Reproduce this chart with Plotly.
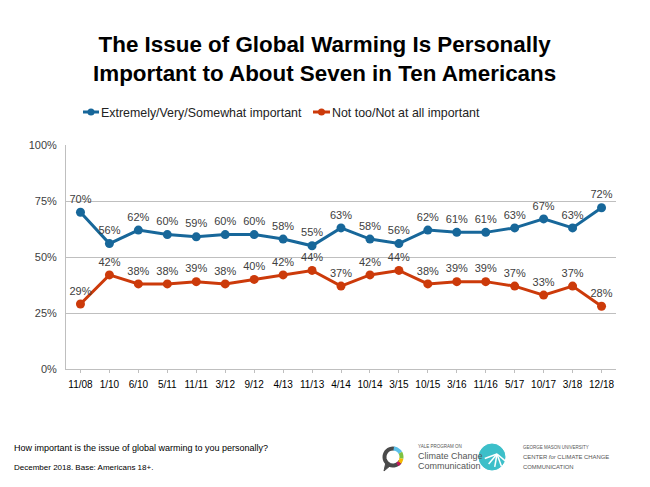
import math
import plotly.graph_objects as go

categories = ["11/08", "1/10", "6/10", "5/11", "11/11", "3/12", "9/12", "4/13", "11/13",
              "4/14", "10/14", "3/15", "10/15", "3/16", "11/16", "5/17", "10/17", "3/18", "12/18"]
important = [70, 56, 62, 60, 59, 60, 60, 58, 55, 63, 58, 56, 62, 61, 61, 63, 67, 63, 72]
not_important = [29, 42, 38, 38, 39, 38, 40, 42, 44, 37, 42, 44, 38, 39, 39, 37, 33, 37, 28]
series_names = ["Extremely/Very/Somewhat important", "Not too/Not at all important"]
y_ticks = [0, 25, 50, 75, 100]

BLUE = "#17679A"
RED = "#CC3A0A"
FONT = "Liberation Sans, Arial, sans-serif"

L, R, T, B = 66, 616, 145, 369
W, H = R - L, B - T


def fx(x):
    return (x - L) / W


def fy(y):
    return (B - y) / H


fig = go.Figure()
for name, vals, col in [(series_names[0], important, BLUE), (series_names[1], not_important, RED)]:
    fig.add_trace(go.Scatter(
        x=categories, y=vals, name=name, mode="lines+markers+text",
        line=dict(color=col, width=3), marker=dict(color=col, size=9),
        text=[f"{v}%" for v in vals], textposition="top center",
        textfont=dict(family=FONT, size=11, color="#404040"),
        cliponaxis=False, showlegend=False,
    ))

fig.update_layout(
    width=650, height=487,
    margin=dict(l=L, r=650 - R, t=T, b=487 - B, autoexpand=False),
    paper_bgcolor="white", plot_bgcolor="white",
    font=dict(family=FONT, color="#404040"),
    showlegend=False,
    xaxis=dict(type="category", range=[-0.5, len(categories) - 0.5], showgrid=False,
               showline=True, linecolor="#BFBFBF", linewidth=1,
               ticks="outside", ticklen=3, tickcolor="#BFBFBF", automargin=False, ticklabelstandoff=3,
               tickfont=dict(family=FONT, size=10, color="#000000"), fixedrange=True),
    yaxis=dict(range=[0, 100], tickvals=y_ticks, ticktext=[f"{t}%" for t in y_ticks],
               showgrid=True, gridcolor="#BFBFBF", gridwidth=1, showline=True, linecolor="#BFBFBF",
               zeroline=False, tickfont=dict(family=FONT, size=11, color="#404040"),
               ticks="", ticklabelstandoff=6, automargin=False, fixedrange=True),
)

fig.add_annotation(text="<b>The Issue of Global Warming Is Personally<br>Important to About Seven in Ten Americans</b>",
                   xref="paper", yref="paper", x=fx(324), y=fy(59),
                   xanchor="center", yanchor="middle", showarrow=False,
                   font=dict(family=FONT, size=22.4, color="#000000"), align="center")

# manual legend
shapes = []
for (x0, x1, col, name) in [(83, 99, BLUE, series_names[0]), (313, 330, RED, series_names[1])]:
    shapes.append(dict(type="line", xref="paper", yref="paper", x0=fx(x0), x1=fx(x1), y0=fy(112), y1=fy(112),
                       line=dict(color=col, width=3)))
    m = (x0 + x1) / 2
    shapes.append(dict(type="circle", xref="paper", yref="paper", x0=fx(m - 3.5), x1=fx(m + 3.5),
                       y0=fy(112 + 3.5), y1=fy(112 - 3.5), line=dict(color=col, width=0), fillcolor=col))
    fig.add_annotation(text=name, xref="paper", yref="paper", x=fx(x1 + 0), y=fy(113),
                       xanchor="left", yanchor="middle", showarrow=False,
                       font=dict(family=FONT, size=12.4, color="#222222"))

fig.add_annotation(text="How important is the issue of global warming to you personally?",
                   xref="paper", yref="paper", x=fx(12), y=fy(448),
                   xanchor="left", yanchor="middle", showarrow=False,
                   font=dict(family=FONT, size=9, color="#000000"))
fig.add_annotation(text="December 2018. Base: Americans 18+.",
                   xref="paper", yref="paper", x=fx(12), y=fy(467),
                   xanchor="left", yanchor="middle", showarrow=False,
                   font=dict(family=FONT, size=8, color="#000000"))


# logos (approximate drawings)
def arc_path(cx, cy, r, a0, a1, n=12):
    pts = []
    for i in range(n + 1):
        a = math.radians(a0 + (a1 - a0) * i / n)
        pts.append((fx(cx + r * math.cos(a)), fy(cy - r * math.sin(a))))
    return "M " + " L ".join(f"{p[0]:.5f},{p[1]:.5f}" for p in pts)


cx, cy, r = 393, 457, 8.5
shapes.append(dict(type="path", xref="paper", yref="paper", path=arc_path(cx, cy, r, 80, 330, 24),
                   line=dict(color="#4A4A4A", width=4)))
for a0, a1, col in [(30, 85, "#5BC0E8"), (-10, 30, "#7DC242"), (-40, -10, "#F5B800"), (-60, -40, "#C2185B")]:
    shapes.append(dict(type="path", xref="paper", yref="paper", path=arc_path(cx, cy, r, a0, a1, 6),
                       line=dict(color=col, width=4)))
shapes.append(dict(type="path", xref="paper", yref="paper",
                   path=f"M {fx(386):.5f},{fy(462):.5f} L {fx(384):.5f},{fy(471):.5f} L {fx(391):.5f},{fy(465):.5f} Z",
                   line=dict(color="#4A4A4A", width=1), fillcolor="#4A4A4A"))

cx2, cy2, r2 = 492, 457, 13
shapes.append(dict(type="circle", xref="paper", yref="paper",
                   x0=fx(cx2 - r2), x1=fx(cx2 + r2), y0=fy(cy2 + r2), y1=fy(cy2 - r2),
                   line=dict(color="#3CBFC9", width=1), fillcolor="#3CBFC9"))
for ang in [200, 230, 260, 290, 320]:
    a = math.radians(ang)
    shapes.append(dict(type="line", xref="paper", yref="paper",
                       x0=fx(cx2 + 5), y0=fy(cy2 - 3),
                       x1=fx(cx2 + 5 + 13 * math.cos(a)), y1=fy(cy2 - 3 - 13 * math.sin(a)),
                       line=dict(color="white", width=1.5)))
fig.update_layout(shapes=shapes)

for txt, x, y, s in [("YALE PROGRAM ON", 416, 446, 4.5), ("Climate Change", 416, 456, 9), ("Communication", 416, 466, 9),
                     ("GEORGE MASON UNIVERSITY", 521, 447, 4.5), ("CENTER <i>for</i> CLIMATE CHANGE", 521, 457, 5.9),
                     ("COMMUNICATION", 521, 467, 5.9)]:
    fig.add_annotation(text=txt, xref="paper", yref="paper", x=fx(x), y=fy(y),
                       xanchor="left", yanchor="middle", showarrow=False,
                       font=dict(family=FONT, size=s, color="#555555"))

fig.write_html("out.html", config={"displayModeBar": False, "staticPlot": True},
               post_script="document.body.style.margin='0';document.body.style.padding='0';")
